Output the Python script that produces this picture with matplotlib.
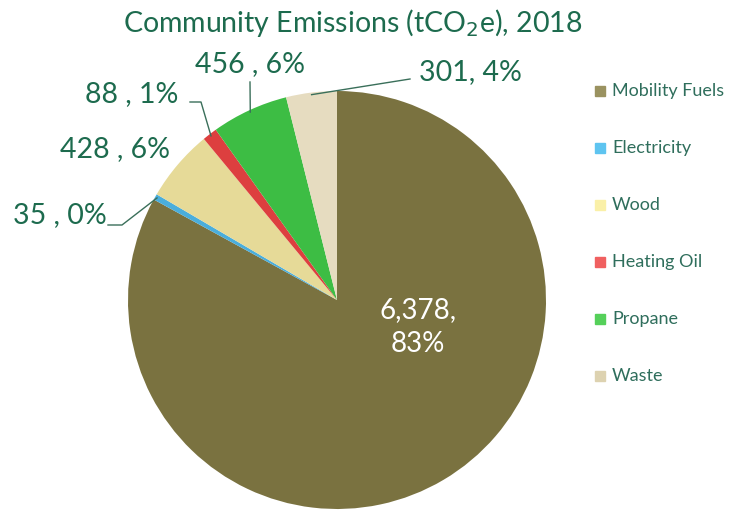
import matplotlib
matplotlib.use('Agg')
import numpy as np
import matplotlib.pyplot as plt

# Community emissions by source, tCO2e
sources = ["Mobility Fuels", "Electricity", "Wood", "Heating Oil", "Propane", "Waste"]
emissions = [6378, 35, 428, 88, 456, 301]
colors = ["#7a7240", "#4aaedc", "#e6da98", "#dd3f3f", "#3dbd44", "#e6dcc0"]
legend_colors = ["#9a9260", "#5ec4f0", "#faf0a8", "#f06060", "#55d05a", "#ddd2b0"]

green = "#1d6b4e"
plt.rcParams['font.family'] = ['Lato', 'DejaVu Sans']

fig = plt.figure(figsize=(7.31, 5.12), dpi=100)
ax = fig.add_axes([0, 0, 1, 1])

cx, cy, r = 337, 212, 209
wedges, _ = ax.pie(emissions, colors=colors, startangle=90, counterclock=False,
                   center=(cx, cy), radius=r, frame=True,
                   wedgeprops=dict(linewidth=0))
ax.set_xlim(0, 731)
ax.set_ylim(0, 512)
ax.set_aspect('equal')
ax.axis('off')

total = sum(emissions)
pct = [round(v / total * 100) for v in emissions]
labels = [f"{v:,} , {p}%" for v, p in zip(emissions, pct)]
labels[5] = f"{emissions[5]:,}, {pct[5]}%"

# big slice label inside
ax.text(418, 185, f"{emissions[0]:,},\n{pct[0]}%", color="white", fontsize=20,
        ha='center', va='center', linespacing=1.35)

def edge(i, frac=1.0):
    w = wedges[i]
    a = np.deg2rad((w.theta1 + w.theta2) / 2)
    return cx + r * frac * np.cos(a), cy + r * frac * np.sin(a)

# outside labels with leader lines
outside = {
    1: dict(xy=(60, 297), line=[(108, 287), (122, 287)]),
    2: dict(xy=(115, 363), line=None),
    3: dict(xy=(132, 418), line=[(190, 410), (201, 410)]),
    4: dict(xy=(250, 448), line=[(250, 430)]),
    5: dict(xy=(470, 440), line=[(410, 433)]),
}
for i, o in outside.items():
    ax.text(o['xy'][0], o['xy'][1], labels[i], color=green, fontsize=20.5,
            ha='center', va='center')
    if o['line']:
        ex, ey = edge(i, 0.99)
        xs, ys = zip(*(o['line'] + [(ex, ey)]))
        ax.plot(xs, ys, color="#3a6f5a", lw=1)

fig.text(0.483, 0.955, r"Community Emissions (tCO$_2$e), 2018", color=green,
         fontsize=20.5, ha='center', va='center')

# legend
for k, (name, c) in enumerate(zip(sources, legend_colors)):
    y = 421 - k * 57
    ax.add_patch(plt.Rectangle((595, y - 5), 10, 10, color=c))
    ax.text(612, y, name, color="#2f6e5c", fontsize=13, va='center')

fig.savefig("out.png", dpi=100)
